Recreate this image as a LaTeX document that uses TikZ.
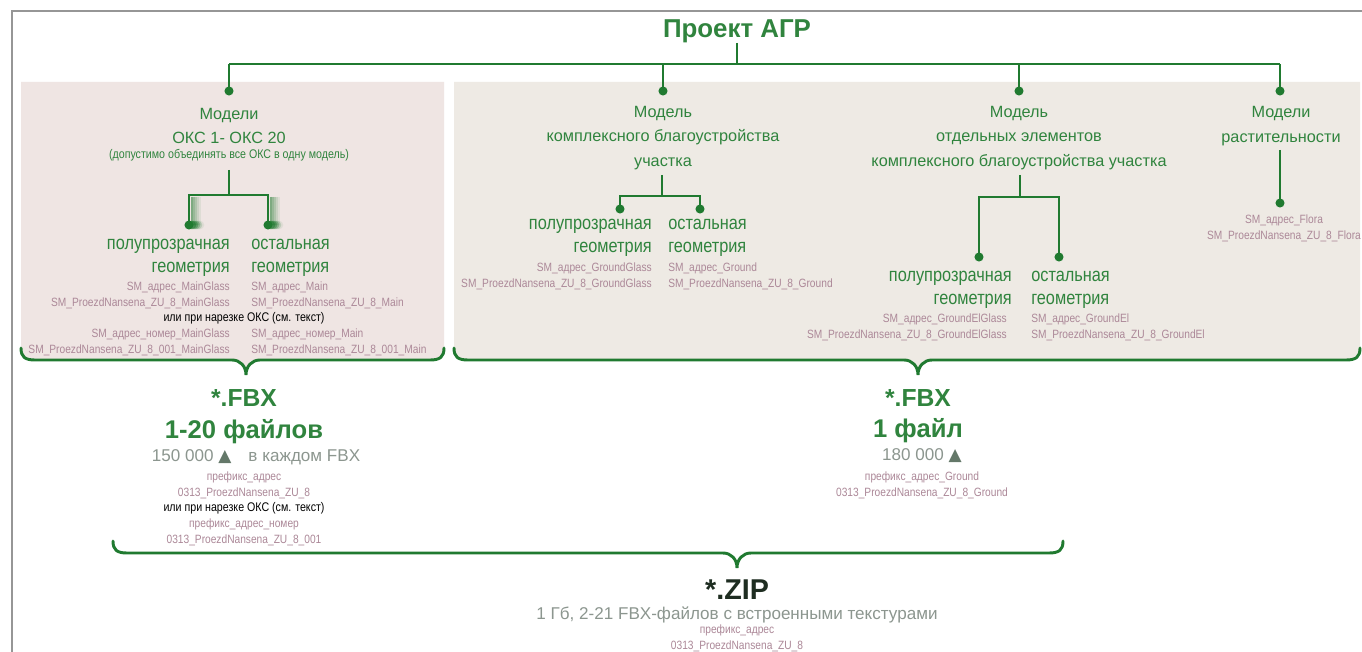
\documentclass[tikz,border=0pt]{standalone}
\usepackage{fontspec}
\setmainfont{Liberation Sans}
\newfontfamily\narrowsf[FakeStretch=0.85]{Liberation Sans}
\newfontfamily\symfont{DejaVu Sans}
\usetikzlibrary{positioning, calc}
\definecolor{agrline}{RGB}{32,122,48}
\definecolor{agrtext}{RGB}{48,132,62}
\definecolor{panelpink}{RGB}{239,229,227}
\definecolor{panelbeige}{RGB}{238,234,228}
\definecolor{fnamecol}{RGB}{172,136,152}
\definecolor{graytxt}{RGB}{140,150,143}
\definecolor{tricol}{RGB}{100,120,105}
\definecolor{framegray}{RGB}{150,150,150}
\definecolor{zipcol}{RGB}{30,45,33}

% curly bracket under a block: left x, tip x, right x, line y
\newcommand{\bracepath}[4]{%
  (#1,#4-12) .. controls (#1,#4-3) and (#1+4,#4) .. (#1+14,#4)
  -- (#2-14,#4) .. controls (#2-6,#4) and (#2,#4+6) .. (#2,#4+15)
  .. controls (#2,#4+6) and (#2+6,#4) .. (#2+14,#4)
  -- (#3-14,#4) .. controls (#3-4,#4) and (#3,#4-3) .. (#3,#4-12)}

\begin{document}
\begin{tikzpicture}[x=0.75pt, y=-0.75pt,
  tree/.style={draw=agrline, line width=2.2pt},
  brace/.style={draw=agrline, line width=2.2pt, line cap=round},
  dot/.style={circle, fill=agrline, inner sep=0pt, minimum size=6.8pt},
  head/.style={text=agrtext, font=\fontsize{12.2}{18.2}\selectfont, align=center, inner sep=0pt},
  hint/.style={text=agrtext, font=\narrowsf\fontsize{9.4}{11}\selectfont, inner sep=0pt},
  geo/.style={text=agrtext, font=\narrowsf\fontsize{14.4}{16.8}\selectfont, inner sep=0pt},
  fname/.style={text=fnamecol, font=\narrowsf\fontsize{9}{12}\selectfont, inner sep=0pt},
  note/.style={text=black, font=\narrowsf\fontsize{9.4}{11}\selectfont, inner sep=0pt},
  ext/.style={text=agrtext, font=\bfseries\fontsize{18.5}{20}\selectfont, inner sep=0pt},
  count/.style={text=graytxt, font=\fontsize{12.8}{14}\selectfont, inner sep=0pt},
]
  \clip (0,0) rectangle (1362,652);
  \fill[white] (0,0) rectangle (1362,652);
  \draw[framegray, line width=1.5pt] (12,652) -- (12,11) -- (1362,11);

  % panels
  \fill[panelpink] (21,82) -- \bracepath{21}{246}{444}{360} -- (444,82) -- cycle;
  \fill[panelbeige] (454,82) -- \bracepath{454}{918}{1360}{360} -- (1360,82) -- cycle;

  % top of the tree
  \node[text=agrtext, font=\bfseries\fontsize{19.4}{20}\selectfont, inner sep=0pt] (title) at (737,31) {Проект АГР};
  \coordinate (hub) at (737,64);
  \node[dot] (okc) at (229,91) {};
  \node[dot] (gnd) at (663,91) {};
  \node[dot] (el) at (1019,91) {};
  \node[dot] (flora) at (1280,91) {};
  \draw[tree] (title.south) -- (hub);
  \draw[tree] (okc.center |- hub) -- (flora.center |- hub);
  \foreach \n in {okc, gnd, el, flora} {
    \draw[tree] (\n.center) -- (\n.center |- hub);
  }

  % OKS models
  \node[head] (okcT) at (229,126) {Модели\\ОКС 1- ОКС 20};
  \node[hint] (okcH) at (229,155) {(допустимо объединять все ОКС в одну модель)};
  \coordinate (okcS) at (229,170);
  \coordinate (okcF) at (229,195);
  \node[dot] (okcA) at (189,225) {};
  \node[dot] (okcB) at (268,225) {};
  \draw[tree] (okcS) -- (okcF);
  \draw[tree] (okcA.center) |- (okcF) -| (okcB.center);
  \foreach \o/\a in {3/.55, 5/.42, 7/.3, 9/.18, 11/.08} {
    \draw[agrline, line width=1pt, opacity=\a] (189+\o,197) -- (189+\o,225) (268+\o,197) -- (268+\o,225);
    \fill[agrline, opacity=\a] (189+\o,225) circle (3.2pt) (268+\o,225) circle (3.2pt);
  }
  \node[geo, align=right, anchor=east] (okcGl) at (230,258) {полупрозрачная\\геометрия};
  \node[geo, align=left, anchor=west] (okcMn) at (251,258) {остальная\\геометрия};
  \node[fname, align=right, anchor=east] (okcGlN) at (230,295) {SM\_адрес\_MainGlass\\SM\_ProezdNansena\_ZU\_8\_MainGlass};
  \node[fname, align=left, anchor=west] (okcMnN) at (251,295) {SM\_адрес\_Main\\SM\_ProezdNansena\_ZU\_8\_Main};
  \node[note] (okcCut) at (244,318) {или при нарезке ОКС (см. текст)};
  \node[fname, align=right, anchor=east] (okcGlC) at (230,342) {SM\_адрес\_номер\_MainGlass\\SM\_ProezdNansena\_ZU\_8\_001\_MainGlass};
  \node[fname, align=left, anchor=west] (okcMnC) at (251,342) {SM\_адрес\_номер\_Main\\SM\_ProezdNansena\_ZU\_8\_001\_Main};

  % ground model
  \node[head] (gndT) at (663,138) {Модель\\комплексного благоустройства\\участка};
  \coordinate (gndS) at (662,175);
  \coordinate (gndF) at (662,196);
  \node[dot] (gndA) at (620,209) {};
  \node[dot] (gndB) at (700,209) {};
  \draw[tree] (gndS) -- (gndF);
  \draw[tree] (gndA.center) |- (gndF) -| (gndB.center);
  \node[geo, align=right, anchor=east] (gndGl) at (652,238) {полупрозрачная\\геометрия};
  \node[geo, align=left, anchor=west] (gndMn) at (668,238) {остальная\\геометрия};
  \node[fname, align=right, anchor=east] (gndGlN) at (652,276) {SM\_адрес\_GroundGlass\\SM\_ProezdNansena\_ZU\_8\_GroundGlass};
  \node[fname, align=left, anchor=west] (gndMnN) at (668,276) {SM\_адрес\_Ground\\SM\_ProezdNansena\_ZU\_8\_Ground};

  % separate elements
  \node[head] (elT) at (1019,138) {Модель\\отдельных элементов\\комплексного благоустройства участка};
  \coordinate (elS) at (1020,175);
  \coordinate (elF) at (1020,197);
  \node[dot] (elA) at (979,257) {};
  \node[dot] (elB) at (1059,257) {};
  \draw[tree] (elS) -- (elF);
  \draw[tree] (elA.center) |- (elF) -| (elB.center);
  \node[geo, align=right, anchor=east] (elGl) at (1012,290) {полупрозрачная\\геометрия};
  \node[geo, align=left, anchor=west] (elMn) at (1031,290) {остальная\\геометрия};
  \node[fname, align=right, anchor=east] (elGlN) at (1007,327) {SM\_адрес\_GroundElGlass\\SM\_ProezdNansena\_ZU\_8\_GroundElGlass};
  \node[fname, align=left, anchor=west] (elMnN) at (1031,327) {SM\_адрес\_GroundEl\\SM\_ProezdNansena\_ZU\_8\_GroundEl};

  % flora
  \node[head] (floraT) at (1281,126) {Модели\\растительности};
  \coordinate (floraS) at (1280,150);
  \node[dot] (floraD) at (1280,203) {};
  \draw[tree] (floraS) -- (floraD.center);
  \node[fname, align=center] (floraN) at (1284,228) {SM\_адрес\_Flora\\SM\_ProezdNansena\_ZU\_8\_Flora};

  % brackets
  \draw[brace] \bracepath{21}{246}{444}{360};
  \draw[brace] \bracepath{454}{918}{1360}{360};
  \draw[brace] \bracepath{113}{737}{1063}{553};

  % files per block
  \node[ext] (fbxA) at (244,398) {*.FBX};
  \node[ext, font=\bfseries\fontsize{19.2}{20}\selectfont] (numA) at (244,432) {1-20 файлов};
  \node[count] (polyA) at (256,457) {150 000 {\color{tricol}\symfont ▲}\quad в каждом FBX};
  \node[fname, align=center] (preA) at (244,485) {префикс\_адрес\\0313\_ProezdNansena\_ZU\_8};
  \node[note] (cutA) at (244,508) {или при нарезке ОКС (см. текст)};
  \node[fname, align=center] (preAC) at (244,532) {префикс\_адрес\_номер\\0313\_ProezdNansena\_ZU\_8\_001};

  \node[ext] (fbxB) at (918,398) {*.FBX};
  \node[ext, font=\bfseries\fontsize{19.2}{20}\selectfont] (numB) at (918,431) {1 файл};
  \node[count] (polyB) at (922,456) {180 000 {\color{tricol}\symfont ▲}};
  \node[fname, align=center] (preB) at (922,485) {префикс\_адрес\_Ground\\0313\_ProezdNansena\_ZU\_8\_Ground};

  % archive
  \node[text=zipcol, font=\bfseries\fontsize{21.5}{23}\selectfont, inner sep=0pt] (zip) at (737,590) {*.ZIP};
  \node[count] (zipI) at (737,615) {1 Гб, 2-21 FBX-файлов с встроенными текстурами};
  \node[fname, align=center] (zipN) at (737,638) {префикс\_адрес\\0313\_ProezdNansena\_ZU\_8};
\end{tikzpicture}
\end{document}
